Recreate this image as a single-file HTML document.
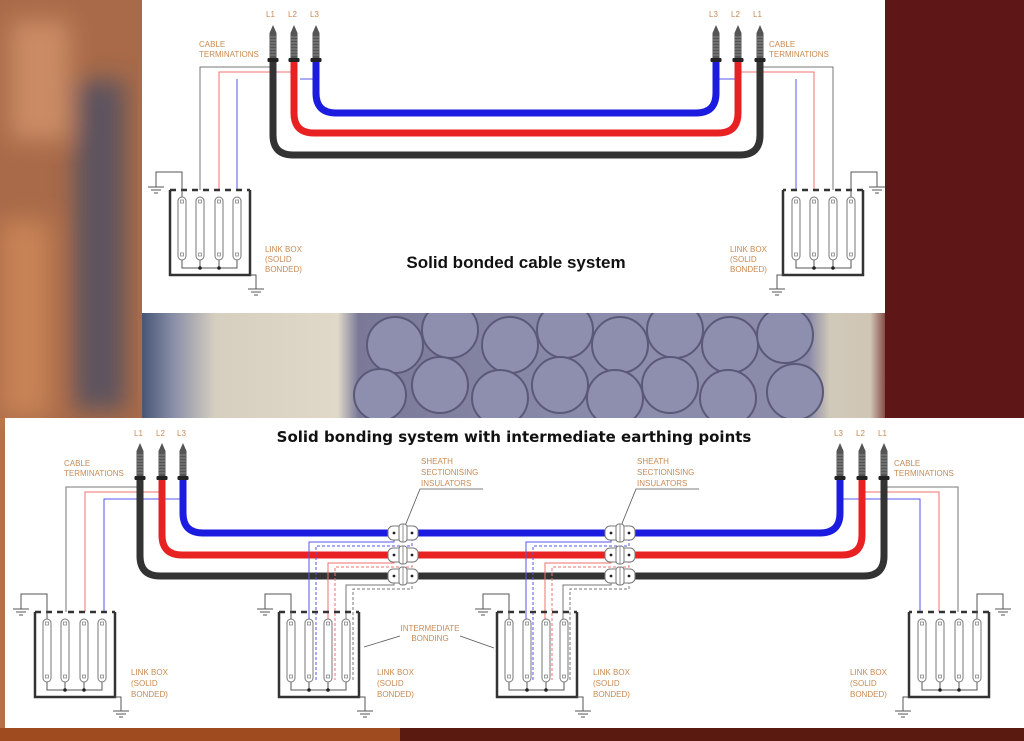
<!DOCTYPE html>
<html><head><meta charset="utf-8"><style>
html,body{margin:0;padding:0;width:1024px;height:741px;overflow:hidden}
body{position:relative;background:linear-gradient(90deg,#b87048 0,#8a5a48 6%,#c08058 10%,#4a5878 14%,#8a90a8 17%,#d6cfc0 21%,#e0d8c8 33%,#7a7a98 35%,#8c8cac 60%,#8a8aa8 79%,#d0c8b8 81%,#cfc6b6 85%,#6a1c1c 87%,#4a0e0e 100%)}
svg{position:absolute;left:0;top:0}
.t{font-family:"Liberation Sans",sans-serif;font-size:8px;fill:#c98a52}
.h{font-family:"DejaVu Sans","Liberation Sans",sans-serif;font-weight:bold;fill:#111}
</style></head><body>
<svg width="1024" height="741" viewBox="0 0 1024 741" xmlns="http://www.w3.org/2000/svg">
<defs>
<filter id="bl"><feGaussianBlur stdDeviation="12"/></filter>
<g id="term">
<path d="M0,0 L3.5,8 V34 H-3.5 V8 Z" fill="#555"/>
<path d="M-3,12 H3 M-3,15 H3 M-3,18 H3 M-3,21 H3 M-3,24 H3 M-3,27 H3 M-3,30 H3" stroke="#999" stroke-width="0.8"/>
<rect x="-5.5" y="33" width="11" height="4" rx="1" fill="#222"/>
</g>
<g id="gnd" stroke="#555" stroke-width="1">
<path d="M-8,0 H8 M-5,3 H5 M-2,6 H2"/>
</g>
<g id="lnk">
<rect x="-4" y="7" width="8" height="63" rx="4" fill="#fff" stroke="#777"/>
<rect x="-1.5" y="10" width="3" height="3" fill="none" stroke="#777" stroke-width="0.7"/>
<rect x="-1.5" y="63" width="3" height="3" fill="none" stroke="#777" stroke-width="0.7"/>
</g>
<g id="box">
<path d="M0,0 V85 H80 V0" fill="none" stroke="#333" stroke-width="2.5"/>
<path d="M0,0 H80" stroke="#333" stroke-width="2.5" stroke-dasharray="6,5"/>
<path d="M12,7 V-18 H-14 V-3 M12,70 V78 H67 V70 M30,70 V78 M49,70 V78 M80,85 H86 V99" fill="none" stroke="#555" stroke-width="1"/>
<use href="#gnd" x="-14" y="-3"/>
<use href="#gnd" x="86" y="99"/>
<circle cx="30" cy="78" r="1.8" fill="#222"/><circle cx="49" cy="78" r="1.8" fill="#222"/>
<use href="#lnk" x="12"/><use href="#lnk" x="30"/><use href="#lnk" x="49"/><use href="#lnk" x="67"/>
</g>
<g id="ins">
<rect x="-15" y="-7" width="30" height="14" rx="5" fill="#fff" stroke="#777"/>
<rect x="-4" y="-9" width="8" height="18" rx="3" fill="#fff" stroke="#777"/>
<path d="M0,-9 V9" stroke="#777" stroke-width="0.8"/>
<circle cx="-9" cy="0" r="1.4" fill="#222"/><circle cx="9" cy="0" r="1.4" fill="#222"/>
</g>
</defs>

<!-- background details -->
<rect x="0" y="728" width="1024" height="13" fill="#5a1a10"/>
<rect x="0" y="728" width="400" height="13" fill="#a04a20"/>
<rect x="0" y="0" width="142" height="418" fill="#a86a48"/>
<g filter="url(#bl)">
<rect x="75" y="80" width="50" height="330" fill="#3a4a6a" opacity="0.7"/>
<rect x="0" y="220" width="50" height="198" fill="#d08a58" opacity="0.8"/>
<rect x="10" y="20" width="60" height="120" fill="#d89a70" opacity="0.7"/>
</g>
<rect x="885" y="0" width="139" height="418" fill="#5e1616"/>
<g fill="#8e8eae" stroke="#5a5a78" stroke-width="2">
<circle cx="395" cy="345" r="28"/><circle cx="450" cy="330" r="28"/><circle cx="510" cy="345" r="28"/><circle cx="565" cy="330" r="28"/><circle cx="620" cy="345" r="28"/><circle cx="675" cy="330" r="28"/><circle cx="730" cy="345" r="28"/><circle cx="785" cy="335" r="28"/>
<circle cx="380" cy="395" r="26"/><circle cx="440" cy="385" r="28"/><circle cx="500" cy="398" r="28"/><circle cx="560" cy="385" r="28"/><circle cx="615" cy="398" r="28"/><circle cx="670" cy="385" r="28"/><circle cx="728" cy="398" r="28"/><circle cx="795" cy="392" r="28"/>
</g>

<!-- TOP PANEL -->
<rect x="142" y="0" width="743" height="313" fill="#fff"/>
<text class="t" x="266" y="17">L1</text><text class="t" x="288" y="17">L2</text><text class="t" x="310" y="17">L3</text>
<text class="t" x="709" y="17">L3</text><text class="t" x="731" y="17">L2</text><text class="t" x="753" y="17">L1</text>
<text class="t" x="199" y="47">CABLE</text><text class="t" x="199" y="57">TERMINATIONS</text>
<text class="t" x="769" y="47">CABLE</text><text class="t" x="769" y="57">TERMINATIONS</text>
<g fill="none" stroke-width="1">
<path d="M273,67 H200 V190 M760,67 H833 V190" stroke="#777"/>
<path d="M294,72 H219 V190 M738,72 H814 V190" stroke="#f07070"/>
<path d="M316,79 H300 M237,79 V190 M716,79 H740 M796,79 V190" stroke="#5555ee"/>
</g>
<g fill="none" stroke-width="7">
<path d="M316,62 V93 Q316,113 336,113 H696 Q716,113 716,93 V62" stroke="#1c1ce0"/>
<path d="M294,62 V113 Q294,133 314,133 H718 Q738,133 738,113 V62" stroke="#e82222"/>
<path d="M273,62 V135 Q273,155 293,155 H740 Q760,155 760,135 V62" stroke="#333"/>
</g>
<use href="#term" x="273" y="25"/><use href="#term" x="294" y="25"/><use href="#term" x="316" y="25"/>
<use href="#term" x="716" y="25"/><use href="#term" x="738" y="25"/><use href="#term" x="760" y="25"/>
<use href="#box" transform="translate(170,190)"/>
<use href="#box" transform="translate(863,190) scale(-1,1)"/>
<text class="t" x="265" y="252">LINK BOX</text><text class="t" x="265" y="262">(SOLID</text><text class="t" x="265" y="272">BONDED)</text>
<text class="t" x="730" y="252">LINK BOX</text><text class="t" x="730" y="262">(SOLID</text><text class="t" x="730" y="272">BONDED)</text>
<text class="h" x="516" y="268" font-size="17" text-anchor="middle" style="font-family:'Liberation Sans',sans-serif">Solid bonded cable system</text>

<!-- BOTTOM PANEL -->
<rect x="5" y="418" width="1019" height="310" fill="#fff"/>
<text class="h" x="514" y="442" font-size="15" text-anchor="middle">Solid bonding system with intermediate earthing points</text>
<text class="t" x="134" y="436">L1</text><text class="t" x="156" y="436">L2</text><text class="t" x="177" y="436">L3</text>
<text class="t" x="834" y="436">L3</text><text class="t" x="856" y="436">L2</text><text class="t" x="878" y="436">L1</text>
<text class="t" x="64" y="466">CABLE</text><text class="t" x="64" y="476">TERMINATIONS</text>
<text class="t" x="894" y="466">CABLE</text><text class="t" x="894" y="476">TERMINATIONS</text>
<text class="t" x="421" y="464">SHEATH</text><text class="t" x="421" y="475">SECTIONISING</text><text class="t" x="421" y="486">INSULATORS</text>
<text class="t" x="637" y="464">SHEATH</text><text class="t" x="637" y="475">SECTIONISING</text><text class="t" x="637" y="486">INSULATORS</text>
<path d="M483,489 H420 L405,526 M699,489 H636 L621,526" fill="none" stroke="#555" stroke-width="0.8"/>
<g fill="none" stroke-width="1">
<path d="M140,487 H66 V612 M884,487 H958 V612" stroke="#777"/>
<path d="M162,492 H85 V612 M862,492 H939 V612" stroke="#f07070"/>
<path d="M183,499 H104 V612 M840,499 H920 V612" stroke="#5555ee"/>
</g>
<g fill="none" stroke-width="7">
<path d="M183,480 V513 Q183,533 203,533 H820 Q840,533 840,513 V480" stroke="#1c1ce0"/>
<path d="M162,480 V535 Q162,555 182,555 H842 Q862,555 862,535 V480" stroke="#e82222"/>
<path d="M140,480 V556 Q140,576 160,576 H864 Q884,576 884,556 V480" stroke="#333"/>
</g>
<g id="iw" fill="none" stroke-width="1">
<path d="M394,533 V542 H309 V680" stroke="#5555ee"/>
<path d="M412,533 V546 H316 V680" stroke="#5555ee" stroke-dasharray="3,2"/>
<path d="M394,555 V563 H328 V680" stroke="#f07070"/>
<path d="M412,555 V567 H335 V680" stroke="#f07070" stroke-dasharray="3,2"/>
<path d="M394,576 V585 H346 V680" stroke="#777"/>
<path d="M412,576 V589 H353 V680" stroke="#777" stroke-dasharray="3,2"/>
</g>
<use href="#iw" x="217"/>
<use href="#ins" x="403" y="533"/><use href="#ins" x="403" y="555"/><use href="#ins" x="403" y="576"/>
<use href="#ins" x="620" y="533"/><use href="#ins" x="620" y="555"/><use href="#ins" x="620" y="576"/>
<use href="#term" x="140" y="443"/><use href="#term" x="162" y="443"/><use href="#term" x="183" y="443"/>
<use href="#term" x="840" y="443"/><use href="#term" x="862" y="443"/><use href="#term" x="884" y="443"/>
<use href="#box" transform="translate(35,612)"/>
<use href="#box" transform="translate(279,612)"/>
<use href="#box" transform="translate(497,612)"/>
<use href="#box" transform="translate(989,612) scale(-1,1)"/>
<text class="t" x="430" y="631" text-anchor="middle">INTERMEDIATE</text><text class="t" x="430" y="641" text-anchor="middle">BONDING</text>
<path d="M400,636 L364,647 M460,636 L494,648" stroke="#555" stroke-width="0.8"/>
<text class="t" x="131" y="675">LINK BOX</text><text class="t" x="131" y="686">(SOLID</text><text class="t" x="131" y="697">BONDED)</text>
<text class="t" x="377" y="675">LINK BOX</text><text class="t" x="377" y="686">(SOLID</text><text class="t" x="377" y="697">BONDED)</text>
<text class="t" x="593" y="675">LINK BOX</text><text class="t" x="593" y="686">(SOLID</text><text class="t" x="593" y="697">BONDED)</text>
<text class="t" x="850" y="675">LINK BOX</text><text class="t" x="850" y="686">(SOLID</text><text class="t" x="850" y="697">BONDED)</text>
</svg>
</body></html>
